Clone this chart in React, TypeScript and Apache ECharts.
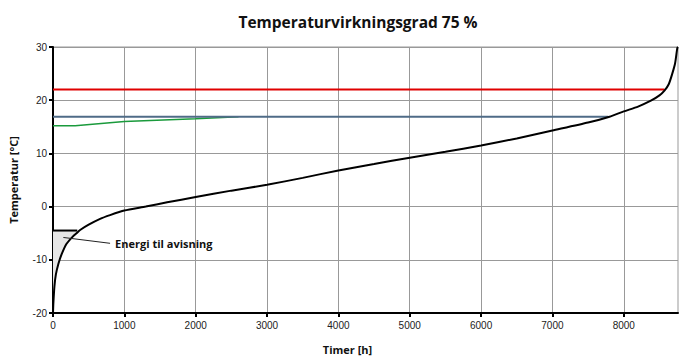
import React, { useEffect, useRef } from "react";
import * as echarts from "echarts";

const hours = [0, 5, 20, 40, 75, 120, 190, 280, 330, 380, 500, 660, 800, 1000, 1300, 1600, 2000, 2500, 3000, 3500, 4000, 4500, 5000, 5500, 6000, 6500, 7000, 7500, 7800, 8000, 8200, 8380, 8500, 8570, 8630, 8680, 8720, 8750, 8760];
const temps = [-20, -18.2, -15, -12.8, -10.8, -9, -7, -5.6, -5.0, -4.4, -3.4, -2.3, -1.6, -0.75, 0, 0.8, 1.8, 3.0, 4.1, 5.4, 6.8, 8.0, 9.2, 10.3, 11.5, 12.8, 14.3, 15.8, 16.9, 17.9, 18.8, 19.9, 20.9, 21.8, 23, 25, 27, 29.8, 30];

const redLine = [[0, 22], [8570, 22]];
const blueLine = [[0, 16.9], [7780, 16.9]];
const greenLine = [[0, 15.2], [310, 15.2], [1000, 16.0], [2000, 16.5], [2600, 16.9]];
const deicingLevel = -4.5;
const deicingEnd = 340;
const leader = [[145, -5.8], [800, -6.9]];
const leaderText = "Energi til avisning";
const xTicks = [0, 1000, 2000, 3000, 4000, 5000, 6000, 7000, 8000];

export default function App() {
  const ref = useRef<HTMLDivElement>(null);
  useEffect(() => {
    const chart = echarts.init(ref.current!, null, { renderer: "svg" });
    const curve = hours.map((h, i) => [h, temps[i]]);
    const shadePts: number[][] = [[0, -20]];
    curve.forEach((p) => { if (p[1] < deicingLevel) shadePts.push(p); });
    shadePts.push([deicingEnd, deicingLevel], [0, deicingLevel]);
    const font = "'Liberation Sans', Arial, sans-serif";
    chart.setOption({
      animation: false,
      title: {
        text: "Temperaturvirkningsgrad 75 %",
        left: 353,
        top: 9,
        textAlign: "center",
        textStyle: { fontFamily: "'Open Sans', sans-serif", fontWeight: "bold", fontSize: 15.5, color: "#111" },
      },
      grid: { left: 53, right: 1, top: 47, bottom: 43, show: true, borderColor: "#999", borderWidth: 1, outerBoundsMode: "none", containLabel: false },
      xAxis: {
        type: "value",
        min: 0,
        max: 8760,
        interval: 1000,
        name: "Timer [h]",
        nameLocation: "middle",
        nameGap: 31,
        nameTextStyle: { fontFamily: "'Open Sans', sans-serif", fontWeight: "bold", fontSize: 11, color: "#111", padding: [0, 36, 0, 0] },
        axisLine: { show: true, onZero: false, lineStyle: { color: "#000", width: 2 } },
        axisTick: { show: true, length: 4, lineStyle: { color: "#000", width: 2 }, customValues: xTicks },
        axisLabel: { fontFamily: font, fontSize: 10, color: "#222", margin: 7, customValues: xTicks, formatter: (v: number) => String(v) },
        splitLine: { show: true, lineStyle: { color: "#999", width: 1 } },
      },
      yAxis: {
        type: "value",
        min: -20,
        max: 30,
        interval: 10,
        name: "Temperatur [°C]",
        nameLocation: "middle",
        nameGap: 34,
        nameTextStyle: { fontFamily: "'Open Sans', sans-serif", fontWeight: "bold", fontSize: 11, color: "#111" },
        axisLine: { show: true, onZero: false, lineStyle: { color: "#000", width: 2 } },
        axisTick: { show: true, length: 4, lineStyle: { color: "#000", width: 2 } },
        axisLabel: { fontFamily: font, fontSize: 10, color: "#222", margin: 6 },
        splitLine: { show: true, lineStyle: { color: "#999", width: 1 } },
      },
      series: [
        {
          type: "custom",
          data: [0],
          silent: true,
          z: 1,
          renderItem: (params: any, api: any) => ({
            type: "polygon",
            shape: { points: shadePts.map((p) => api.coord(p)) },
            style: { fill: "#e6e6e6", stroke: "none" },
          }),
        },
        {
          type: "line",
          data: [[0, deicingLevel], [deicingEnd, deicingLevel]],
          symbol: "none",
          lineStyle: { color: "#000", width: 2 },
          z: 3,
        },
        {
          type: "line",
          data: greenLine,
          symbol: "none",
          lineStyle: { color: "#1a9a3c", width: 1.5 },
          z: 2,
        },
        {
          type: "line",
          data: blueLine,
          symbol: "none",
          lineStyle: { color: "#4f6b87", width: 2 },
          z: 3,
        },
        {
          type: "line",
          data: redLine,
          symbol: "none",
          lineStyle: { color: "#e00000", width: 2 },
          z: 3,
        },
        {
          type: "line",
          data: curve,
          symbol: "none",
          smooth: 0.2,
          lineStyle: { color: "#000", width: 2 },
          z: 4,
        },
        {
          type: "line",
          data: leader,
          symbol: "none",
          lineStyle: { color: "#222", width: 1 },
          z: 4,
          endLabel: {
            show: true,
            formatter: leaderText,
            distance: 5,
            fontFamily: "'Open Sans', sans-serif",
            fontWeight: "bold",
            fontSize: 11,
            color: "#111",
          },
        },
      ],
    });
    return () => chart.dispose();
  }, []);
  return <div ref={ref} style={{ width: 679, height: 356, position: "absolute", left: 0, top: 0 }} />;
}
